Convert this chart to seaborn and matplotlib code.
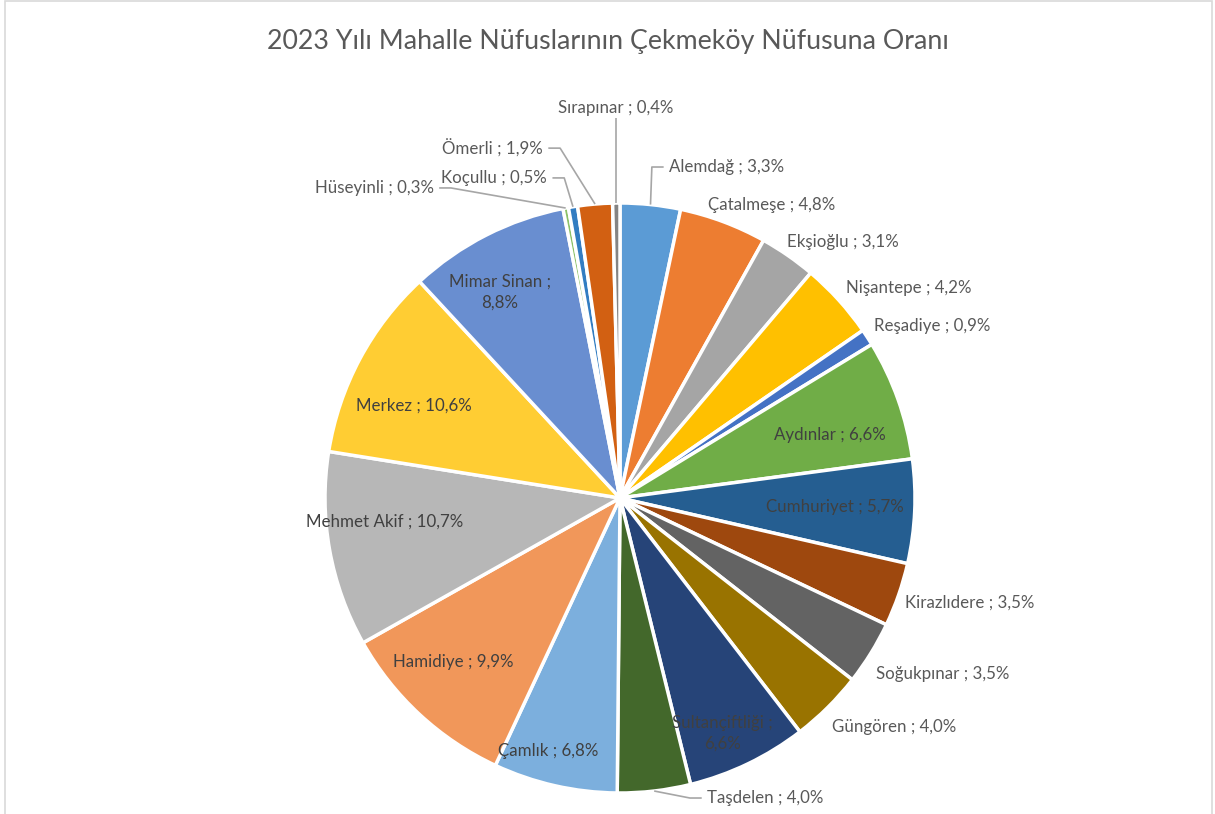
import numpy as np
import matplotlib
matplotlib.use("Agg")
import matplotlib.pyplot as plt
from matplotlib.patches import Rectangle
import seaborn as sns

# 2023 mahalle nüfus oranları (%), saat yönünde, tepeden başlayarak
mahalleler = ["Alemdağ", "Çatalmeşe", "Ekşioğlu", "Nişantepe", "Reşadiye", "Aydınlar",
              "Cumhuriyet", "Kirazlıdere", "Soğukpınar", "Güngören", "Sultançiftliği",
              "Taşdelen", "Çamlık", "Hamidiye", "Mehmet Akif", "Merkez", "Mimar Sinan",
              "Hüseyinli", "Koçullu", "Ömerli", "Sırapınar"]
oranlar = [3.3, 4.8, 3.1, 4.2, 0.9, 6.6, 5.7, 3.5, 3.5, 4.0, 6.6,
           4.0, 6.8, 9.9, 10.7, 10.6, 8.8, 0.3, 0.5, 1.9, 0.4]
renkler = ["#5B9BD5", "#ED7D31", "#A5A5A5", "#FFC000", "#4472C4", "#70AD47",
           "#255E91", "#9E480E", "#636363", "#997300", "#264478",
           "#43682B", "#7CAFDD", "#F1975A", "#B7B7B7", "#FFCD33", "#698ED0",
           "#8CC168", "#327DC2", "#D26012", "#848484"]
iki_satir = ["Sultançiftliği", "Mimar Sinan"]
ic_etiket = ["Aydınlar", "Cumhuriyet", "Sultançiftliği", "Çamlık", "Hamidiye",
             "Mehmet Akif", "Merkez", "Mimar Sinan"]
cizgili = ["Alemdağ", "Taşdelen", "Hüseyinli", "Koçullu", "Ömerli", "Sırapınar"]

# etiket yerleri (pasta yarıçapı birimiyle) ve hizalama
etiket_yer = {
    "Alemdağ": (0.166, 1.122, "left"), "Çatalmeşe": (0.515, 0.993, "center"),
    "Ekşioğlu": (0.756, 0.868, "center"), "Nişantepe": (0.980, 0.712, "center"),
    "Reşadiye": (1.058, 0.583, "center"), "Aydınlar": (0.712, 0.214, "center"),
    "Cumhuriyet": (0.729, -0.031, "center"), "Kirazlıdere": (1.186, -0.353, "center"),
    "Soğukpınar": (1.095, -0.597, "center"), "Güngören": (0.929, -0.776, "center"),
    "Sultançiftliği": (0.346, -0.797, "center"), "Taşdelen": (0.295, -1.017, "left"),
    "Çamlık": (-0.244, -0.858, "center"), "Hamidiye": (-0.566, -0.556, "center"),
    "Mehmet Akif": (-0.797, -0.081, "center"), "Merkez": (-0.698, 0.312, "center"),
    "Mimar Sinan": (-0.407, 0.698, "center"), "Hüseyinli": (-0.631, 1.051, "right"),
    "Koçullu": (-0.247, 1.085, "right"), "Ömerli": (-0.261, 1.186, "right"),
    "Sırapınar": (-0.014, 1.322, "center"),
}

sns.set_theme(style="white")
plt.rcParams["font.family"] = ["Lato", "DejaVu Sans"]

W, H = 1215, 814
cx, cy, R = 620, 498, 295
fig = plt.figure(figsize=(W / 100, H / 100), dpi=100)
fig.patch.set_facecolor("white")
fig.add_artist(Rectangle((5 / W, -0.01), 1207 / W, 1.0 - 0.5 / H + 0.01,
                         transform=fig.transFigure, fill=False,
                         edgecolor="#D9D9D9", linewidth=1.2))

ax = fig.add_axes([0, 0, 1, 1])
wedges, _ = ax.pie(oranlar, colors=renkler, startangle=90, counterclock=False,
                   wedgeprops=dict(edgecolor="white", linewidth=2.5))
ax.set_xlim(-cx / R, (W - cx) / R)
ax.set_ylim(-(H - cy) / R, cy / R)
ax.set_aspect("auto")
ax.axis("off")

for w, ad, oran in zip(wedges, mahalleler, oranlar):
    yuzde = f"{oran:.1f}%".replace(".", ",")
    metin = f"{ad} ;\n{yuzde}" if ad in iki_satir else f"{ad} ; {yuzde}"
    x, y, ha = etiket_yer[ad]
    renk = "#404040" if ad in ic_etiket else "#595959"
    ax.text(x, y, metin, ha=ha, va="center", fontsize=12.2, color=renk,
            linespacing=1.4)
    if ad in cizgili:
        orta = np.deg2rad((w.theta1 + w.theta2) / 2)
        px, py = np.cos(orta), np.sin(orta)
        if ha == "center":
            xs, ys = [px, px], [py, y - 0.035]
        else:
            s = 1 if ha == "left" else -1
            son = x - s * 0.018
            xs, ys = [px, son - s * 0.04, son], [py, y, y]
        ax.plot(xs, ys, color="#A6A6A6", linewidth=1.2, solid_capstyle="butt")

fig.text(0.5, 1 - 42 / H, "2023 Yılı Mahalle Nüfuslarının Çekmeköy Nüfusuna Oranı",
         ha="center", va="center", fontsize=19.3, color="#595959")

plt.savefig("out.png", dpi=100)
